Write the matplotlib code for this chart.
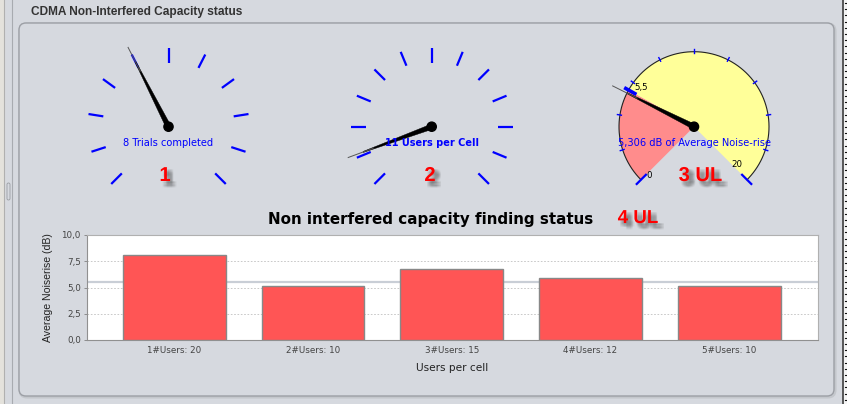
import numpy as np
import matplotlib
matplotlib.use("Agg")
import matplotlib.pyplot as plt
from matplotlib.patches import FancyBboxPatch, Polygon, Circle, Rectangle
import matplotlib.patheffects as pe

# ---------------- data ----------------
categories = ["1#Users: 20", "2#Users: 10", "3#Users: 15", "4#Users: 12", "5#Users: 10"]
noiserise = [8.1, 5.14, 6.73, 5.87, 5.11]
threshold = 5.5
y_ticks = [0.0, 2.5, 5.0, 7.5, 10.0]
y_tick_labels = ["0,0", "2,5", "5,0", "7,5", "10,0"]

gauge_values = [8, 11, 5.306]
gauge_min = [0, 0, 0]
gauge_max = [20, 120, 20]
gauge_step = [2, 10, 2]
gauge_texts = ["8 Trials completed", "11 Users per Cell", "5,306 dB of Average Noise-rise"]
gauge_labels = ["1", "2", "3 UL"]
chart_label = "4 UL"
panel_title = "CDMA Non-Interfered Capacity status"
chart_title = "Non interfered capacity finding status"

BG = "#D6D9DF"
W, H = 847, 404

fig = plt.figure(figsize=(W / 100, H / 100), dpi=100, facecolor=BG)
bg = fig.add_axes([0, 0, 1, 1], zorder=0)
bg.set_xlim(0, W)
bg.set_ylim(H, 0)
bg.axis("off")
bg.set_facecolor(BG)

# window chrome
bg.add_patch(Rectangle((0, 0), 3.5, H, color="#E4E2DC", zorder=1))
bg.plot([3.5, 3.5], [0, H], color="#B0B0B0", lw=0.8, zorder=2)
bg.plot([12, 12], [0, H], color="#A8ABB0", lw=0.8, zorder=2)
bg.add_patch(FancyBboxPatch((7, 183), 3, 17, boxstyle="round,pad=0,rounding_size=1.5",
                            fc=BG, ec="#9A9DA2", lw=0.6, zorder=2))
bg.plot([843, 843], [0, H], color="#404040", lw=1.2, zorder=2)
bg.add_patch(Rectangle((844, 0), 3, H, color="#F4F4F4", zorder=1))
for yy in np.arange(3, H, 6.2):
    bg.plot([844.5, 846.5], [yy, yy], color="#111111", lw=0.8, zorder=2)

# panel
bg.add_patch(FancyBboxPatch((20, 24), 815, 373, boxstyle="round,pad=0,rounding_size=7",
                            fc="none", ec="#C4C7CC", lw=2.2, zorder=2))
bg.add_patch(FancyBboxPatch((19, 23), 815, 373, boxstyle="round,pad=0,rounding_size=7",
                            fc=BG, ec="#9C9FA5", lw=1.0, zorder=2))
bg.text(31, 12, panel_title, fontsize=8.6, fontweight="bold", color="#333333",
        va="center", ha="left", family="Liberation Sans", zorder=3)

shadow = []
for dx in (1.5, 2.5, 3.5, 4.5):
    for dy in (1.5, 2.5, 3.5, 4.5):
        shadow.append(pe.SimplePatchShadow(offset=(dx, -dy), shadow_rgbFace="#505050",
                                           alpha=0.07))
shadow.append(pe.Normal())


def pt(cx, cy, r, ang):
    a = np.deg2rad(ang)
    return cx + r * np.cos(a), cy - r * np.sin(a)


def v2a(v, lo, hi):
    return 225 - 270 * (v - lo) / (hi - lo)


def needle(cx, cy, ang, length):
    a = np.deg2rad(ang)
    ux, uy = np.cos(a), -np.sin(a)
    px, py = -uy, ux
    hw = 2.6
    tipx, tipy = cx + ux * length * 0.82, cy + uy * length * 0.82
    poly = [(cx + px * hw, cy + py * hw), (tipx + px * 0.5, tipy + py * 0.5),
            (tipx - px * 0.5, tipy - py * 0.5), (cx - px * hw, cy - py * hw)]
    bg.add_patch(Polygon(poly, closed=True, fc="black", ec="black", lw=0.3, zorder=6))
    x0, y0 = cx + ux * length * 0.7, cy + uy * length * 0.7
    x1, y1 = cx + ux * length, cy + uy * length
    bg.plot([x0, x1], [y0, y1], color="#555555", lw=0.7, zorder=6)
    bg.add_patch(Circle((cx, cy), 4.6, fc="black", ec="black", zorder=7))


centers = [(168.5, 126.7), (431.7, 126.7), (694, 126.7)]

# gauges 1 and 2 (tick-only dials)
for i in range(2):
    cx, cy = centers[i]
    lo, hi, st = gauge_min[i], gauge_max[i], gauge_step[i]
    for v in np.arange(lo, hi + st / 2, st):
        ang = v2a(v, lo, hi)
        r0, r1 = (64, 79) if abs(ang - 90) < 1 else (66, 81)
        x0, y0 = pt(cx, cy, r0, ang)
        x1, y1 = pt(cx, cy, r1, ang)
        bg.plot([x0, x1], [y0, y1], color="#0000FF", lw=1.6, solid_capstyle="butt", zorder=4)
    needle(cx, cy, v2a(gauge_values[i], lo, hi), 89)

bg.text(centers[0][0], 143, gauge_texts[0], fontsize=7.1, color="#0000FF",
        ha="center", va="center", zorder=8)
bg.text(centers[1][0] + 0.5, 142.5, gauge_texts[1], fontsize=7.0, fontweight="bold",
        color="#0000FF", ha="center", va="center", zorder=8)

# gauge 3 (dial with coloured ranges)
cx, cy = centers[2]
lo, hi = gauge_min[2], gauge_max[2]
R = 75
a_thr = v2a(threshold, lo, hi)
a_lo, a_hi = v2a(lo, lo, hi), v2a(hi, lo, hi)
arc_r = np.linspace(a_lo, a_thr, 80)
red_poly = [(cx, cy)] + [pt(cx, cy, R, a) for a in arc_r]
bg.add_patch(Polygon(red_poly, closed=True, fc="#FF8C8C", ec="none", zorder=3))
arc_y = np.linspace(a_thr, a_hi, 200)
yel_poly = [(cx, cy)] + [pt(cx, cy, R, a) for a in arc_y]
bg.add_patch(Polygon(yel_poly, closed=True, fc="#FFFF99", ec="none", zorder=3))
arc_all = np.linspace(a_lo, a_hi, 300)
xs, ys = zip(*[pt(cx, cy, R, a) for a in arc_all])
bg.plot(xs, ys, color="#222222", lw=0.8, zorder=4)
for v in np.arange(lo + gauge_step[2], hi, gauge_step[2]):
    ang = v2a(v, lo, hi)
    x0, y0 = pt(cx, cy, R - 1.5, ang)
    x1, y1 = pt(cx, cy, R + 2.5, ang)
    bg.plot([x0, x1], [y0, y1], color="#0000FF", lw=1.0, zorder=5)
for v in (lo, hi):
    ang = v2a(v, lo, hi)
    x0, y0 = pt(cx, cy, R - 7, ang)
    x1, y1 = pt(cx, cy, R + 6, ang)
    bg.plot([x0, x1], [y0, y1], color="#0000FF", lw=1.6, zorder=5)
x0, y0 = pt(cx, cy, 66, a_thr)
x1, y1 = pt(cx, cy, 80, a_thr)
bg.plot([x0, x1], [y0, y1], color="#0000FF", lw=2.6, solid_capstyle="butt", zorder=5)
bg.text(641, 87.5, "5,5", fontsize=6.2, color="black", ha="center", va="center", zorder=8)
bg.text(649, 175, "0", fontsize=6.2, color="black", ha="center", va="center", zorder=8)
bg.text(737, 164.5, "20", fontsize=6.2, color="black", ha="center", va="center", zorder=8)
needle(cx, cy, v2a(gauge_values[2], lo, hi), 91)
bg.text(694, 142.5, gauge_texts[2], fontsize=7.1, color="#0000FF",
        ha="center", va="center", zorder=8)

# red gauge labels
for (lx, ly), lab in zip([(165, 175.5), (430, 175.5), (700.5, 175.5)], gauge_labels):
    t = bg.text(lx, ly, lab, fontsize=14.5, fontweight="bold", color="#FF0000",
                ha="center", va="center", family="Liberation Sans", zorder=9)
    t.set_path_effects(shadow)

# chart titles
bg.text(431, 219.5, chart_title, fontsize=10.9, fontweight="bold", color="black",
        ha="center", va="center", zorder=8)
t = bg.text(638, 218.5, chart_label, fontsize=13.5, fontweight="bold", color="#FF0000",
            ha="center", va="center", family="Liberation Sans", zorder=9)
t.set_path_effects(shadow)

# ---------------- bar chart ----------------
L, Rr, T, B = 87, 818, 235, 340
ax = fig.add_axes([L / W, 1 - B / H, (Rr - L) / W, (B - T) / H], zorder=2)
ax.set_facecolor("white")
x = np.arange(len(categories))
ax.bar(x, noiserise, width=0.74, color="#FF5555", edgecolor="#888888", linewidth=1.0, zorder=3)
ax.axhline(threshold, color="#C9CED6", lw=1.6, zorder=2)
ax.set_ylim(0, 10)
ax.set_xlim(-0.63, len(categories) - 1 + 0.64)
ax.set_yticks(y_ticks)
ax.set_yticklabels(y_tick_labels)
ax.set_xticks(x)
ax.set_xticklabels(categories)
for yv in y_ticks[1:-1]:
    ax.axhline(yv, color="#C0C0C0", lw=0.6, ls=(0, (2, 2)), zorder=1)
for s in ["top", "right"]:
    ax.spines[s].set_color("#B0B0B0")
    ax.spines[s].set_linewidth(0.8)
    ax.spines[s].set_linestyle((0, (2, 1)))
for s in ["left", "bottom"]:
    ax.spines[s].set_color("#909090")
    ax.spines[s].set_linewidth(0.8)
ax.tick_params(axis="y", length=2.5, width=0.6, color="#808080", labelsize=6.3,
               labelcolor="#444444", pad=2)
ax.tick_params(axis="x", length=0, labelsize=6.3, labelcolor="#444444", pad=4)
ax.set_ylabel("Average Noiserise (dB)", fontsize=7.6, color="#222222",
              family="Liberation Sans", labelpad=6)
ax.set_xlabel("Users per cell", fontsize=7.6, color="#222222", labelpad=6)

fig.savefig("out.png", dpi=100, facecolor=BG)
